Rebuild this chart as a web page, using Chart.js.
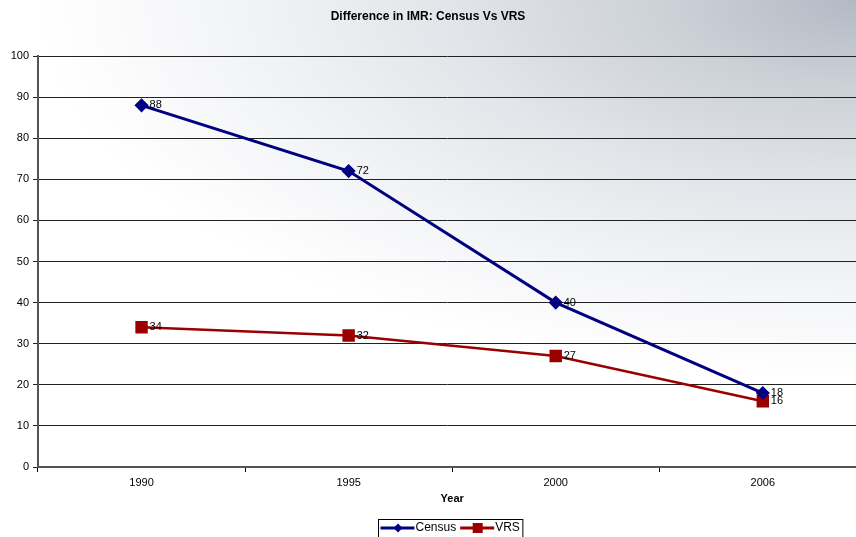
<!DOCTYPE html>
<html>
<head>
<meta charset="utf-8">
<title>Difference in IMR: Census Vs VRS</title>
<script src="https://cdn.jsdelivr.net/npm/chart.js@4.4.1/dist/chart.umd.min.js"></script>
<style>
  html, body { margin: 0; padding: 0; background: #fff; overflow: hidden; }
  #wrap {
    width: 856px; height: 537px; position: relative;
    background: radial-gradient(ellipse 820px 380px at 856px 0px,
        #b3b9c3 0%, #cbd0d7 22%, #e2e5e9 50%, #f4f5f7 78%, #ffffff 100%);
  }
  #chart { display: block; width: 856px; height: 537px; }
</style>
</head>
<body>
<div id="wrap">
  <canvas id="chart" width="856" height="537"></canvas>
</div>
<script>
// chart data
const years = ['1990', '1995', '2000', '2006'];
const censusValues = [88, 72, 40, 18];
const vrsValues = [34, 32, 27, 16];
const yTicks = [0, 10, 20, 30, 40, 50, 60, 70, 80, 90, 100];

const censusColor = '#000080';
const vrsColor = '#9a0000';
const fontFamily = 'Arial, "Liberation Sans", sans-serif';

// categories sit at 0..3 on a linear axis; the last category half is cut off by the page edge
const xMin = -0.5;
const xMax = 3.45;

function toPoints(values) {
    return values.map((v, i) => ({ x: i, y: v }));
}

// title, axis title drawn as text on the canvas
const textPlugin = {
    id: 'pageText',
    afterDraw(chart) {
        const ctx = chart.ctx;
        const xs = chart.scales.x;
        ctx.save();
        ctx.fillStyle = '#000';
        ctx.textAlign = 'center';
        ctx.textBaseline = 'middle';
        ctx.font = 'bold 12px ' + fontFamily;
        ctx.fillText('Difference in IMR: Census Vs VRS', 428, 17);
        ctx.font = 'bold 11px ' + fontFamily;
        ctx.fillText('Year', xs.getPixelForValue((years.length - 1) / 2), 499);
        ctx.restore();
    }
};

// value labels to the right of each point
const valueLabelPlugin = {
    id: 'valueLabels',
    afterDatasetsDraw(chart) {
        const ctx = chart.ctx;
        ctx.save();
        ctx.font = '11px ' + fontFamily;
        ctx.fillStyle = '#000';
        ctx.textAlign = 'left';
        ctx.textBaseline = 'middle';
        chart.data.datasets.forEach((ds, i) => {
            chart.getDatasetMeta(i).data.forEach((pt, j) => {
                ctx.fillText(String(ds.data[j].y), pt.x + 8, pt.y);
            });
        });
        ctx.restore();
    }
};

// Excel style legend: line + marker, boxed
function drawMarker(ctx, style, x, y, color) {
    ctx.fillStyle = color;
    ctx.beginPath();
    if (style === 'rectRot') {
        ctx.moveTo(x, y - 4.5);
        ctx.lineTo(x + 4.5, y);
        ctx.lineTo(x, y + 4.5);
        ctx.lineTo(x - 4.5, y);
        ctx.closePath();
    } else {
        ctx.rect(x - 5, y - 5, 10, 10);
    }
    ctx.fill();
}

const legendPlugin = {
    id: 'excelLegend',
    afterDraw(chart) {
        const ctx = chart.ctx;
        ctx.save();
        ctx.font = '12px ' + fontFamily;
        const lineLen = 35;
        const items = chart.data.datasets.map(ds => ({
            label: ds.label,
            color: ds.borderColor,
            style: ds.pointStyle,
            width: lineLen + ctx.measureText(ds.label).width
        }));
        const gap = 4;
        const total = items.reduce((s, it) => s + it.width, 0) + gap * (items.length - 1) + 5;
        const cx = chart.scales.x.getPixelForValue((years.length - 1) / 2);
        const left = Math.round(cx - total / 2) - 1.5;
        const top = 519.5;
        const cy = 528;
        ctx.fillStyle = '#ffffff';
        ctx.fillRect(left, top, total, 24);
        ctx.strokeStyle = '#000';
        ctx.lineWidth = 1;
        ctx.strokeRect(left, top, total, 24);

        let x = left + 2;
        items.forEach(it => {
            ctx.strokeStyle = it.color;
            ctx.lineWidth = 3;
            ctx.beginPath();
            ctx.moveTo(x, cy);
            ctx.lineTo(x + lineLen - 1, cy);
            ctx.stroke();
            drawMarker(ctx, it.style, x + lineLen / 2, cy, it.color);
            ctx.fillStyle = '#000';
            ctx.textAlign = 'left';
            ctx.textBaseline = 'middle';
            ctx.fillText(it.label, x + lineLen, cy);
            x += it.width + gap;
        });
        ctx.restore();
    }
};

const ctx = document.getElementById('chart').getContext('2d');
const chart = new Chart(ctx, {
    type: 'line',
    data: {
        datasets: [{
            label: 'Census',
            data: toPoints(censusValues),
            borderColor: censusColor,
            backgroundColor: censusColor,
            borderWidth: 3,
            pointStyle: 'rectRot',
            pointRadius: 5,
            pointHoverRadius: 5,
            fill: false,
            tension: 0
        }, {
            label: 'VRS',
            data: toPoints(vrsValues),
            borderColor: vrsColor,
            backgroundColor: vrsColor,
            borderWidth: 2.5,
            pointStyle: 'rect',
            pointRadius: 7,
            pointHoverRadius: 7,
            fill: false,
            tension: 0
        }]
    },
    options: {
        responsive: false,
        animation: false,
        layout: {
            autoPadding: false,
            padding: { top: 56, right: 0, bottom: 30, left: 0 }
        },
        plugins: {
            legend: { display: false },
            title: { display: false },
            tooltip: { enabled: false }
        },
        scales: {
            x: {
                type: 'linear',
                min: xMin,
                max: xMax,
                afterBuildTicks(scale) {
                    scale.ticks = years.map((y, i) => ({ value: i }));
                },
                grid: {
                    offset: true,
                    drawOnChartArea: false,
                    drawTicks: true,
                    tickLength: 5,
                    color: '#000'
                },
                border: { color: '#555', width: 2 },
                ticks: {
                    color: '#000',
                    padding: 4,
                    maxRotation: 0,
                    autoSkip: false,
                    callback: (value) => years[value],
                    font: { family: fontFamily, size: 11 }
                },
                afterFit(scale) { scale.height = 40; }
            },
            y: {
                min: 0,
                max: 100,
                afterBuildTicks(scale) {
                    scale.ticks = yTicks.map(v => ({ value: v }));
                },
                grid: {
                    color: '#222',
                    lineWidth: 1,
                    tickLength: 5
                },
                border: { color: '#555', width: 2 },
                ticks: {
                    color: '#000',
                    padding: 4,
                    font: { family: fontFamily, size: 11 }
                },
                afterFit(scale) { scale.width = 38; }
            }
        }
    },
    plugins: [valueLabelPlugin, textPlugin, legendPlugin]
});
</script>
</body>
</html>
